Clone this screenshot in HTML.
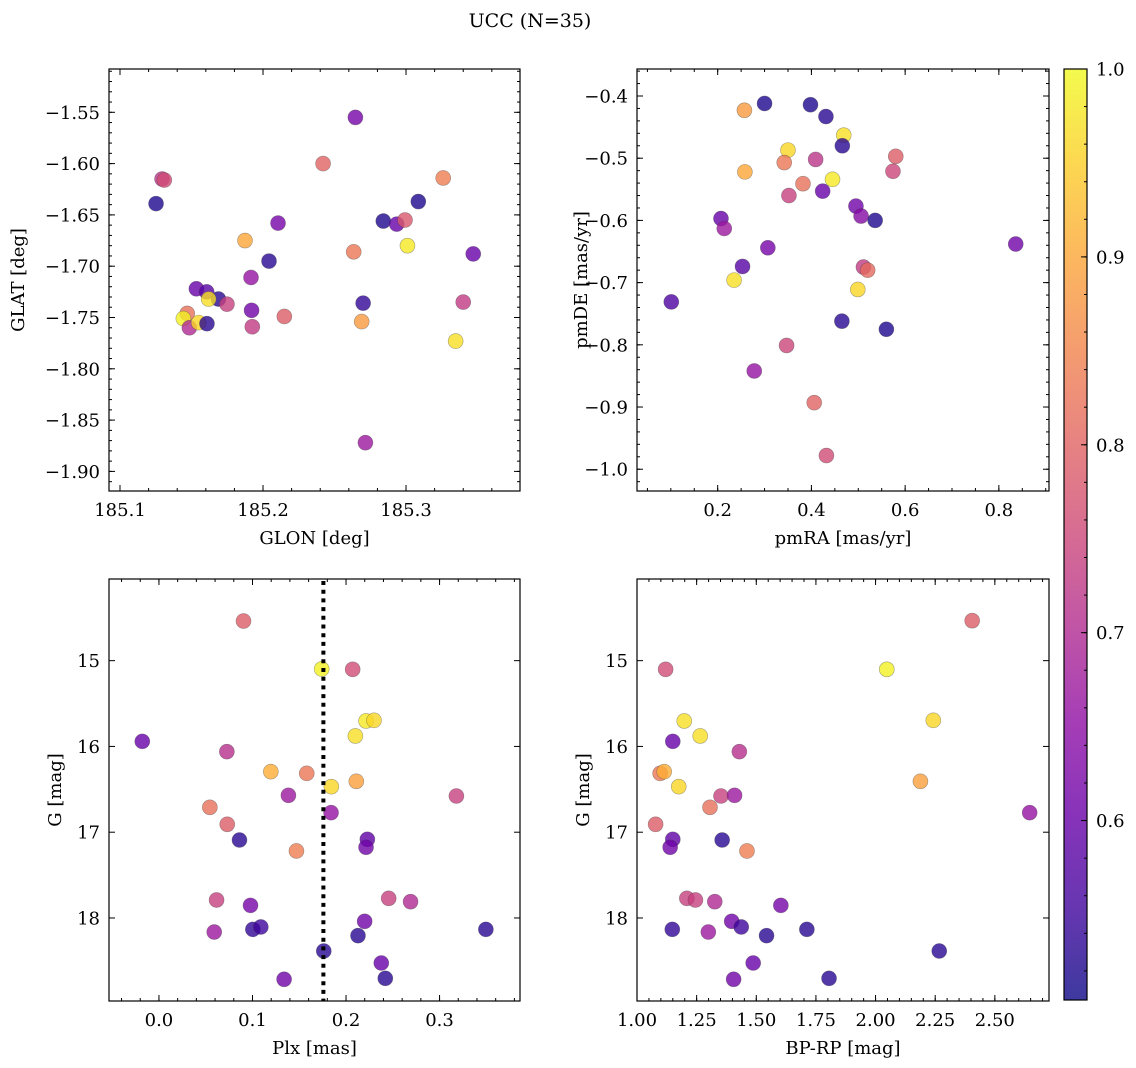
<!DOCTYPE html>
<html><head><meta charset="utf-8"><style>
html,body{margin:0;padding:0;background:#fff;}
svg{display:block;font-family:"DejaVu Serif","Liberation Serif",serif;}
</style></head><body>
<svg id="fig" width="1136" height="1068" viewBox="0 0 1136 1068" xmlns="http://www.w3.org/2000/svg">
<text x="530" y="27" font-size="19" text-anchor="middle">UCC (N=35)</text>
</svg>
<script>
// ---- data ----
const glon = [185.1294,185.1310,185.1252,185.2646,185.242,185.326,185.3086,185.2105,185.2841,185.2935,185.2993,185.1874,185.301,185.347,185.2634,185.2042,185.1916,185.1534,185.1606,185.1688,185.162,185.1748,185.27,185.340,185.192,185.147,185.1443,185.2149,185.1485,185.155,185.1608,185.1925,185.269,185.3347,185.2716];
const glat = [-1.615,-1.616,-1.639,-1.555,-1.600,-1.614,-1.637,-1.658,-1.656,-1.659,-1.655,-1.675,-1.680,-1.688,-1.686,-1.695,-1.711,-1.722,-1.725,-1.732,-1.732,-1.737,-1.736,-1.735,-1.743,-1.746,-1.751,-1.749,-1.760,-1.755,-1.756,-1.759,-1.754,-1.773,-1.872];
const c1 = [0.72,0.76,0.52,0.62,0.80,0.84,0.52,0.62,0.52,0.60,0.78,0.90,0.98,0.60,0.83,0.53,0.66,0.60,0.58,0.53,0.97,0.74,0.54,0.73,0.61,0.82,0.99,0.79,0.70,0.96,0.53,0.73,0.88,0.97,0.67];

const pmra = [0.257,0.300,0.398,0.431,0.469,0.466,0.350,0.342,0.409,0.580,0.574,0.258,0.382,0.445,0.424,0.352,0.495,0.506,0.536,0.207,0.214,0.307,0.836,0.253,0.511,0.520,0.235,0.499,0.101,0.465,0.560,0.347,0.278,0.406,0.432];
const pmde = [-0.423,-0.412,-0.414,-0.433,-0.463,-0.480,-0.487,-0.507,-0.502,-0.497,-0.521,-0.522,-0.541,-0.534,-0.553,-0.560,-0.577,-0.593,-0.600,-0.597,-0.613,-0.644,-0.638,-0.674,-0.675,-0.680,-0.696,-0.711,-0.731,-0.762,-0.775,-0.801,-0.842,-0.893,-0.978];
const c2 = [0.88,0.52,0.52,0.53,0.97,0.53,0.96,0.83,0.72,0.79,0.75,0.90,0.82,0.98,0.60,0.74,0.61,0.64,0.52,0.60,0.67,0.62,0.61,0.58,0.73,0.81,0.97,0.96,0.57,0.53,0.52,0.75,0.66,0.80,0.76];

const plx = [0.0904,0.174,0.2071,0.2214,0.2299,0.210,-0.0178,0.0726,0.1196,0.158,0.211,0.1843,0.1384,0.318,0.0544,0.184,0.073,0.0861,0.2228,0.2214,0.147,0.0616,0.0979,0.2456,0.269,0.2199,0.0591,0.1004,0.1089,0.2128,0.3495,0.1762,0.2377,0.1338,0.242];
const g3 = [14.538,15.097,15.101,15.703,15.696,15.878,15.941,16.061,16.294,16.314,16.407,16.469,16.570,16.578,16.710,16.772,16.908,17.091,17.083,17.176,17.219,17.790,17.853,17.771,17.810,18.039,18.164,18.133,18.105,18.206,18.133,18.385,18.525,18.715,18.704];
const c3 = [0.79,0.99,0.76,0.98,0.96,0.97,0.60,0.71,0.91,0.83,0.89,0.96,0.67,0.74,0.82,0.66,0.79,0.53,0.59,0.61,0.84,0.74,0.62,0.74,0.70,0.61,0.67,0.54,0.55,0.53,0.53,0.53,0.60,0.61,0.53];
const plxLine = 0.1758;

const bprp = [2.405,1.120,2.047,1.198,2.242,1.265,1.150,1.429,1.097,1.114,2.188,1.175,1.352,1.409,1.306,2.646,1.078,1.357,1.150,1.139,1.461,1.209,1.245,1.326,1.603,1.397,1.148,1.437,1.712,1.299,1.543,2.267,1.487,1.405,1.805];
const g4 = [14.534,15.101,15.101,15.703,15.696,15.878,15.941,16.061,16.314,16.294,16.407,16.469,16.578,16.570,16.710,16.772,16.908,17.091,17.083,17.176,17.219,17.771,17.790,17.810,17.853,18.039,18.133,18.105,18.133,18.164,18.206,18.385,18.525,18.715,18.704];
const c4 = [0.79,0.76,0.99,0.97,0.96,0.97,0.60,0.71,0.83,0.91,0.89,0.96,0.74,0.67,0.82,0.66,0.79,0.53,0.59,0.61,0.84,0.74,0.74,0.70,0.62,0.61,0.54,0.55,0.53,0.67,0.53,0.53,0.60,0.61,0.53];

const cbTicks = [0.6,0.7,0.8,0.9,1.0];
const vmin = 0.5045, vmax = 1.0;

// ---- helpers ----
const NS = "http://www.w3.org/2000/svg";
const svg = document.getElementById('fig');
function mk(tag, attrs, parent){ const e=document.createElementNS(NS,tag); for(const k in attrs) e.setAttribute(k,attrs[k]); (parent||svg).appendChild(e); return e; }
const stops = ["#0d0887","#41049d","#6a00a8","#8f0da4","#b12a90","#cc4778","#e16462","#f2844b","#fca636","#fcce25","#f0f921"];
function hex(h){return [parseInt(h.substr(1,2),16),parseInt(h.substr(3,2),16),parseInt(h.substr(5,2),16)];}
function plasma(t){ t=Math.max(0,Math.min(1,t)); const s=t*10; const i=Math.min(9,Math.floor(s)); const f=s-i; const a=hex(stops[i]), b=hex(stops[i+1]); return 'rgb('+a.map((v,k)=>Math.round(v+(b[k]-v)*f)).join(',')+')'; }
function cmap(v){ return plasma((v-vmin)/(vmax-vmin)); }
function fmt(v,d){ return (Math.abs(v)<1e-9?0:v).toFixed(d).replace('-','\u2212'); }
const FS = 18;

function panel(o){
  const g = mk('g',{});
  
  
  const X = v => o.L + (v-o.x0)/(o.x1-o.x0)*(o.R-o.L);
  const Y = v => o.B - (v-o.y0)/(o.y1-o.y0)*(o.B-o.T);
  const tg = mk('g',{stroke:'#000','stroke-width':1},g);
  function ticks(start,end,step,fn){ const n=Math.round((end-start)/step); for(let i=0;i<=n;i++) fn(+(start+i*step).toFixed(6)); }
  ticks(o.xm0,o.x1,o.xmin,v=>{ if(v<o.x0-1e-9||v>o.x1) return; const x=X(v); mk('line',{x1:x,x2:x,y1:o.B,y2:o.B-3},tg); mk('line',{x1:x,x2:x,y1:o.T,y2:o.T+3},tg); });
  ticks(o.ym0,o.y1,o.ymin,v=>{ if(v<o.y0-1e-9||v>o.y1) return; const y=Y(v); mk('line',{x1:o.L,x2:o.L+3,y1:y,y2:y},tg); mk('line',{x1:o.R,x2:o.R-3,y1:y,y2:y},tg); });
  o.xt.forEach(v=>{ const x=X(v); mk('line',{x1:x,x2:x,y1:o.B,y2:o.B-6},tg); mk('line',{x1:x,x2:x,y1:o.T,y2:o.T+6},tg);
    const t=mk('text',{x:x,y:o.B+25,'font-size':FS,'text-anchor':'middle'},g); t.textContent=fmt(v,o.xd);
      });
  o.yt.forEach(v=>{ const y=Y(v); mk('line',{x1:o.L,x2:o.L+6,y1:y,y2:y},tg); mk('line',{x1:o.R,x2:o.R-6,y1:y,y2:y},tg);
    const t=mk('text',{x:o.L-9,y:y+6.5,'font-size':FS,'text-anchor':'end'},g); t.textContent=fmt(v,o.yd);
      });
  const pg = mk('g',{},g);
  
  
  for(let i=0;i<o.xs.length;i++){
    const c = mk('circle',{cx:X(o.xs[i]),cy:Y(o.ys[i]),r:7.5,fill:cmap(o.cs[i]),'fill-opacity':0.8,stroke:'rgba(60,60,60,0.45)','stroke-width':0.6},pg);
    
    
  }
  if(o.vline!==undefined){
    const l=mk('line',{x1:X(o.vline),x2:X(o.vline),y1:o.T+2,y2:o.B,stroke:'#000','stroke-width':4,'stroke-dasharray':'4 4.7'},g);
    
    
  }
  const f=mk('rect',{x:o.L,y:o.T,width:o.R-o.L,height:o.B-o.T,fill:'none',stroke:'#000','stroke-width':1.2},g);
  
  
  const xl=mk('text',{x:(o.L+o.R)/2,y:o.B+53,'font-size':FS,'text-anchor':'middle'},g); xl.textContent=o.xlab;
   
  const yx=o.ylx, yy=(o.T+o.B)/2;
  const yl=mk('text',{x:yx,y:yy,'font-size':FS,'text-anchor':'middle',transform:'rotate(-90 '+yx+' '+yy+')'},g); yl.textContent=o.ylab;
   
}

panel({name:'panel-glon-glat',L:109,R:520,T:69,B:491,x0:185.0923,x1:185.3797,y0:-1.9191,y1:-1.5078,
  xs:glon,ys:glat,cs:c1,xt:[185.1,185.2,185.3],xd:1,yt:[-1.9,-1.85,-1.8,-1.75,-1.7,-1.65,-1.6,-1.55],yd:2,
  xm0:185.08,xmin:0.02,ym0:-1.92,ymin:0.01,xlab:'GLON [deg]',ylab:'GLAT [deg]',ylx:24});
panel({name:'panel-pm',L:637,R:1049,T:69,B:491,x0:0.0278,x1:0.907,y0:-1.035,y1:-0.3566,
  xs:pmra,ys:pmde,cs:c2,xt:[0.2,0.4,0.6,0.8],xd:1,yt:[-1.0,-0.9,-0.8,-0.7,-0.6,-0.5,-0.4],yd:1,
  xm0:0.05,xmin:0.05,ym0:-1.02,ymin:0.02,xlab:'pmRA [mas/yr]',ylab:'pmDE [mas/yr]',ylx:587});
panel({name:'panel-plx-g',L:109,R:520,T:579,B:1001,x0:-0.0534,x1:0.386,y0:18.968,y1:14.048,
  xs:plx,ys:g3,cs:c3,xt:[0.0,0.1,0.2,0.3],xd:1,yt:[15,16,17,18],yd:0,vline:plxLine,
  xm0:-0.04,xmin:0.02,ym0:14.2,ymin:0.2,xlab:'Plx [mas]',ylab:'G [mag]',ylx:61});
panel({name:'panel-cmd',L:637,R:1049,T:579,B:1001,x0:1.0,x1:2.727,y0:18.968,y1:14.048,
  xs:bprp,ys:g4,cs:c4,xt:[1.0,1.25,1.5,1.75,2.0,2.25,2.5],xd:2,yt:[15,16,17,18],yd:0,
  xm0:1.0,xmin:0.05,ym0:14.2,ymin:0.2,xlab:'BP-RP [mag]',ylab:'G [mag]',ylx:589});

// ---- colorbar ----
const cb = mk('g',{});


const CT=69, CB=1000, CL=1064, CR=1087;
const defs=mk('defs',{},cb);
const lg=mk('linearGradient',{id:'cbg',x1:0,y1:1,x2:0,y2:0},defs);
for(let i=0;i<=20;i++){ mk('stop',{offset:i/20,'stop-color':plasma(i/20),'stop-opacity':0.8},lg); }
mk('rect',{x:CL,y:CT,width:CR-CL,height:CB-CT,fill:'url(#cbg)',stroke:'#000','stroke-width':1.2},cb);
const CY = v => CB - (v-vmin)/(vmax-vmin)*(CB-CT);
for(let v=0.52; v<=1.0001; v+=0.02){ const y=CY(v); mk('line',{x1:CR,x2:CR-3,y1:y,y2:y,stroke:'#000'},cb); }
cbTicks.forEach(v=>{ const y=CY(v); mk('line',{x1:CR,x2:CR-6,y1:y,y2:y,stroke:'#000'},cb);
  const t=mk('text',{x:1096,y:y+6.5,'font-size':FS},cb); t.textContent=v.toFixed(1);
    });
</script>
</body></html>
